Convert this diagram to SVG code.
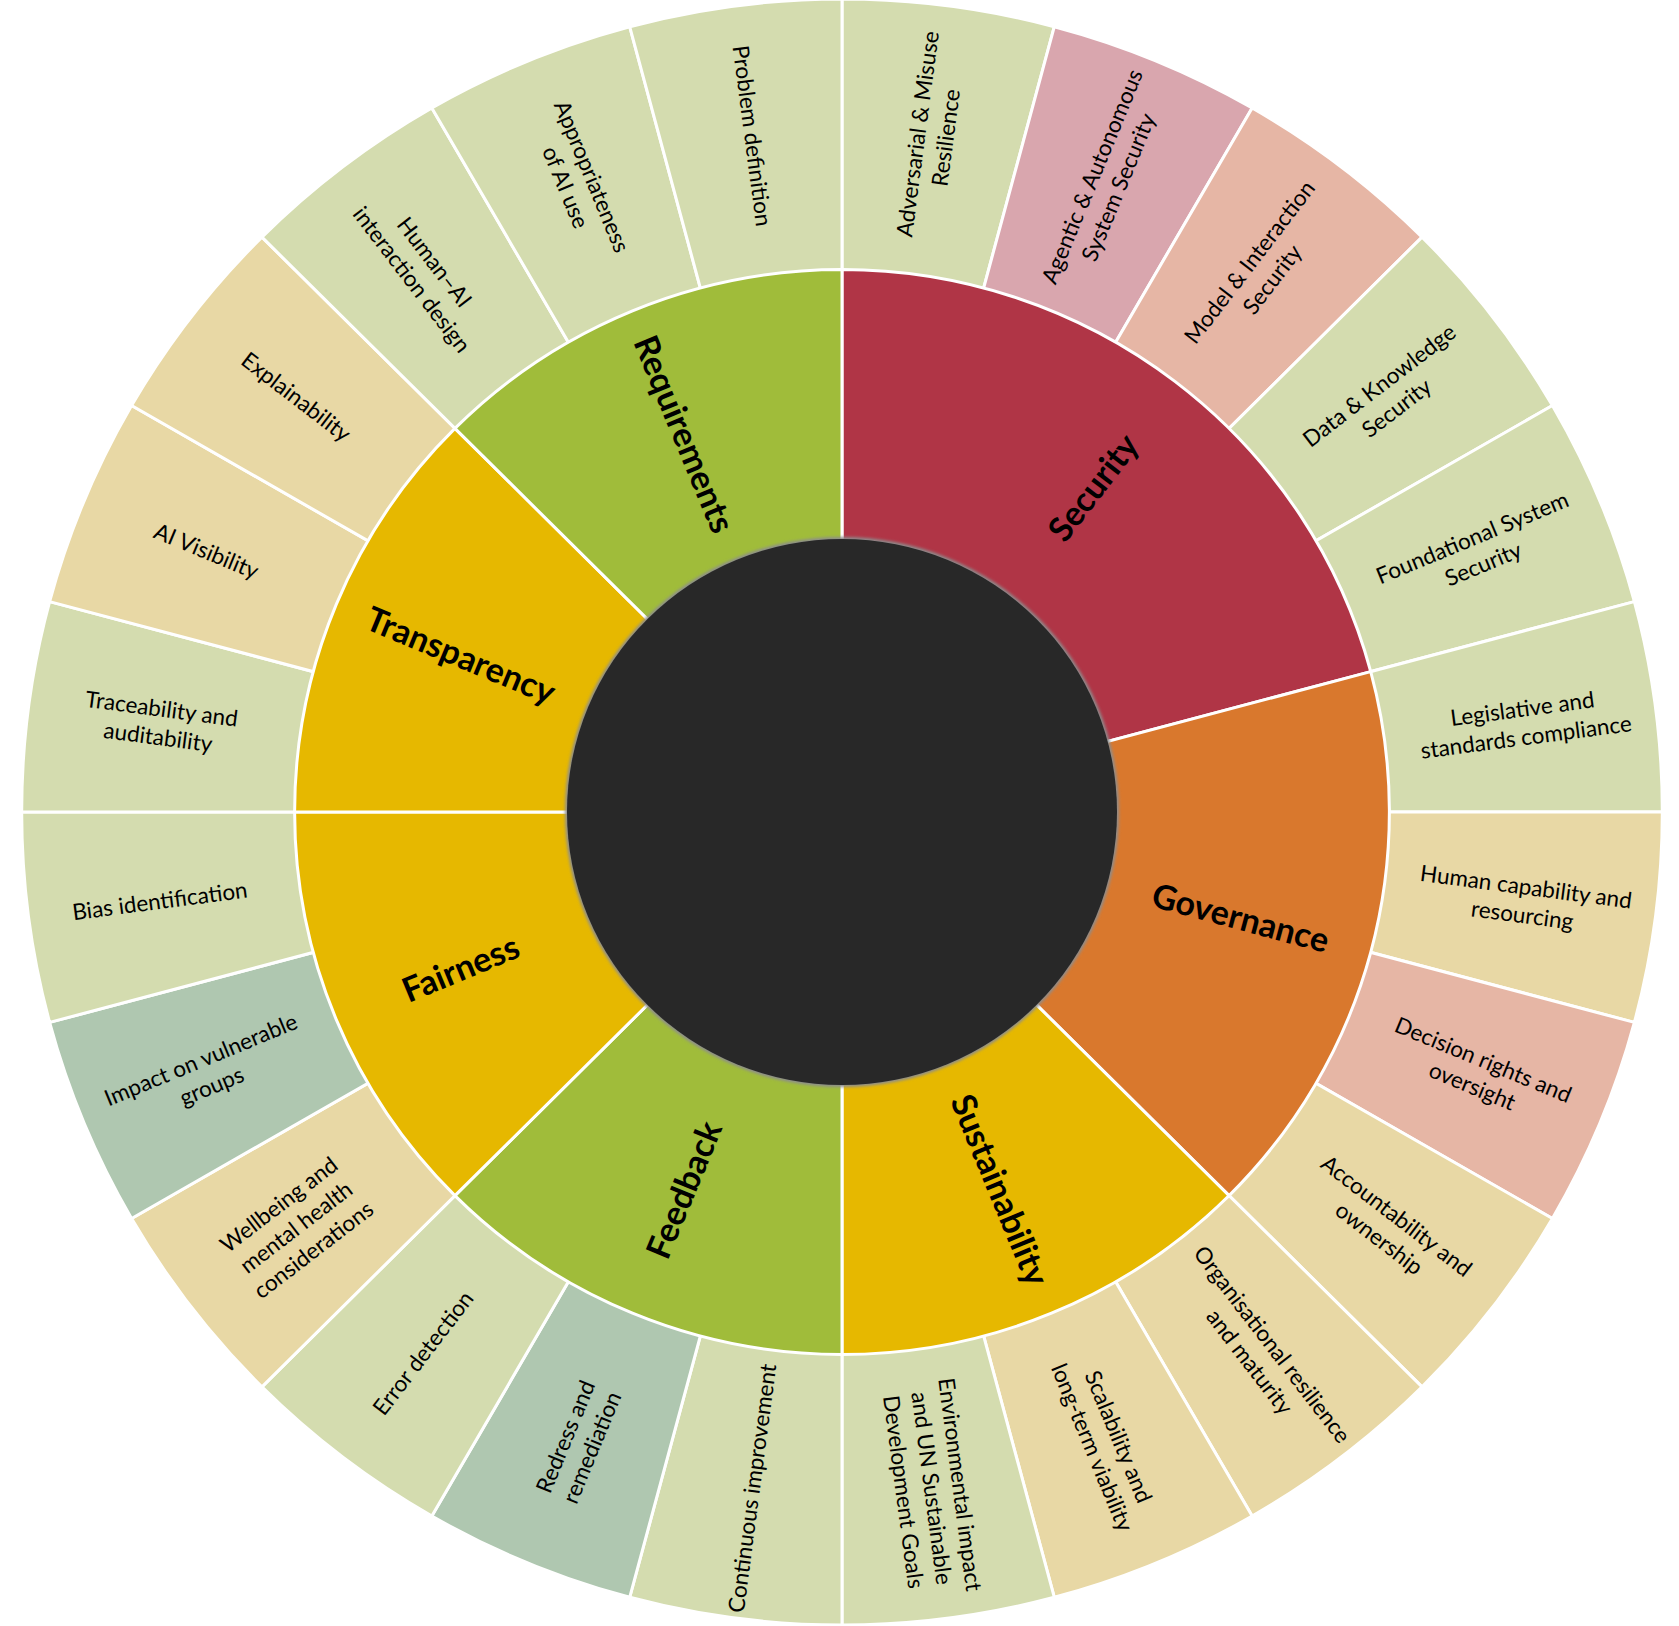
<svg xmlns="http://www.w3.org/2000/svg" width="1679" height="1626" viewBox="0 0 1679 1626">
<style>
.s{stroke:#fff;stroke-width:3;vector-effect:non-scaling-stroke;stroke-linejoin:round}
.lg{fill:#D4DCAF}.pk{fill:#D9A6AE}.sa{fill:#E6B6A5}.tn{fill:#E8D8A5}.sg{fill:#AFC7B0}
.cr{fill:#B03546}.or{fill:#D9782D}.gd{fill:#E6B800}.gr{fill:#A0BC3A}
.t{font-family:Lato,"Open Sans",sans-serif;font-size:22.5px;fill:#000;text-anchor:middle}
.m{font-family:Lato,"Open Sans",sans-serif;font-size:34px;font-weight:bold;fill:#000;text-anchor:middle}
</style>
<defs>
<filter id="halo" x="-10%" y="-10%" width="120%" height="120%"><feGaussianBlur stdDeviation="1.5"/></filter>
</defs>
<rect width="1679" height="1626" fill="#fff"/>
<g id="outer">
<g id="adversarial"><path class="s lg" transform="translate(842 812) scale(1.009 1)" d="M0 0L0 -813A813 813 0 0 1 210.42 -785.3Z"/><text class="t" transform="translate(931.8 135.8) rotate(-82.5)"><tspan x="0" y="-6.4">Adversarial &amp; Misuse</tspan><tspan x="0" y="22.1">Resilience</tspan></text></g>
<g id="agentic"><path class="s pk" transform="translate(842 812) scale(1.009 1)" d="M0 0L210.42 -785.3A813 813 0 0 1 406.5 -704.08Z"/><text class="t" transform="translate(1105.3 181.9) rotate(-67.5)"><tspan x="0" y="-6.4">Agentic &amp; Autonomous</tspan><tspan x="0" y="22.1">System Security</tspan></text></g>
<g id="model"><path class="s sa" transform="translate(842 812) scale(1.009 1)" d="M0 0L406.5 -704.08A813 813 0 0 1 574.88 -574.88Z"/><text class="t" transform="translate(1260.9 270.9) rotate(-52.5)"><tspan x="0" y="-6.4">Model &amp; Interaction</tspan><tspan x="0" y="22.1">Security</tspan></text></g>
<g id="data"><path class="s lg" transform="translate(842 812) scale(1.009 1)" d="M0 0L574.88 -574.88A813 813 0 0 1 704.08 -406.5Z"/><text class="t" transform="translate(1387.9 396.8) rotate(-37.5)"><tspan x="0" y="-6.4">Data &amp; Knowledge</tspan><tspan x="0" y="22.1">Security</tspan></text></g>
<g id="foundational"><path class="s lg" transform="translate(842 812) scale(1.009 1)" d="M0 0L704.08 -406.5A813 813 0 0 1 785.3 -210.42Z"/><text class="t" transform="translate(1477.7 551) rotate(-22.5)"><tspan x="0" y="-6.4">Foundational System</tspan><tspan x="0" y="22.1">Security</tspan></text></g>
<g id="legislative"><path class="s lg" transform="translate(842 812) scale(1.009 1)" d="M0 0L785.3 -210.42A813 813 0 0 1 813 0Z"/><text class="t" transform="translate(1524.2 723) rotate(-7.5)"><tspan x="0" y="-6.4">Legislative and</tspan><tspan x="0" y="22.1">standards compliance</tspan></text></g>
<g id="human-capability"><path class="s tn" transform="translate(842 812) scale(1.009 1)" d="M0 0L813 0A813 813 0 0 1 785.3 210.42Z"/><text class="t" transform="translate(1524.2 901) rotate(7.5)"><tspan x="0" y="-6.4">Human capability and</tspan><tspan x="0" y="22.1">resourcing</tspan></text></g>
<g id="decision-rights"><path class="s sa" transform="translate(842 812) scale(1.009 1)" d="M0 0L785.3 210.42A813 813 0 0 1 704.08 406.5Z"/><text class="t" transform="translate(1477.7 1073) rotate(22.5)"><tspan x="0" y="-6.4">Decision rights and</tspan><tspan x="0" y="22.1">oversight</tspan></text></g>
<g id="accountability"><path class="s tn" transform="translate(842 812) scale(1.009 1)" d="M0 0L704.08 406.5A813 813 0 0 1 574.88 574.88Z"/><text class="t" transform="translate(1387.9 1227.2) rotate(37.5)"><tspan x="0" y="-6.4">Accountability and</tspan><tspan x="0" y="22.1">ownership</tspan></text></g>
<g id="organisational"><path class="s tn" transform="translate(842 812) scale(1.009 1)" d="M0 0L574.88 574.88A813 813 0 0 1 406.5 704.08Z"/><text class="t" transform="translate(1260.9 1353.1) rotate(52.5)"><tspan x="0" y="-6.4">Organisational resilience</tspan><tspan x="0" y="22.1">and maturity</tspan></text></g>
<g id="scalability"><path class="s tn" transform="translate(842 812) scale(1.009 1)" d="M0 0L406.5 704.08A813 813 0 0 1 210.42 785.3Z"/><text class="t" transform="translate(1105.3 1442.1) rotate(67.5)"><tspan x="0" y="-6.4">Scalability and</tspan><tspan x="0" y="22.1">long-term viability</tspan></text></g>
<g id="environmental"><path class="s lg" transform="translate(842 812) scale(1.009 1)" d="M0 0L210.42 785.3A813 813 0 0 1 0 813Z"/><text class="t" transform="translate(931.8 1488.2) rotate(82.5)"><tspan x="0" y="-20.6">Environmental impact</tspan><tspan x="0" y="7.9">and UN Sustainable</tspan><tspan x="0" y="36.4">Development Goals</tspan></text></g>
<g id="continuous"><path class="s lg" transform="translate(842 812) scale(1.009 1)" d="M0 0L0 813A813 813 0 0 1 -210.42 785.3Z"/><text class="t" transform="translate(752.2 1488.2) rotate(-82.5)"><tspan x="0" y="7.9">Continuous improvement</tspan></text></g>
<g id="redress"><path class="s sg" transform="translate(842 812) scale(1.009 1)" d="M0 0L-210.42 785.3A813 813 0 0 1 -406.5 704.08Z"/><text class="t" transform="translate(578.7 1442.1) rotate(-67.5)"><tspan x="0" y="-6.4">Redress and</tspan><tspan x="0" y="22.1">remediation</tspan></text></g>
<g id="error-detection"><path class="s lg" transform="translate(842 812) scale(1.009 1)" d="M0 0L-406.5 704.08A813 813 0 0 1 -574.88 574.88Z"/><text class="t" transform="translate(423.1 1353.1) rotate(-52.5)"><tspan x="0" y="7.9">Error detection</tspan></text></g>
<g id="wellbeing"><path class="s tn" transform="translate(842 812) scale(1.009 1)" d="M0 0L-574.88 574.88A813 813 0 0 1 -704.08 406.5Z"/><text class="t" transform="translate(296.1 1227.2) rotate(-37.5)"><tspan x="0" y="-20.6">Wellbeing and</tspan><tspan x="0" y="7.9">mental health</tspan><tspan x="0" y="36.4">considerations</tspan></text></g>
<g id="impact"><path class="s sg" transform="translate(842 812) scale(1.009 1)" d="M0 0L-704.08 406.5A813 813 0 0 1 -785.3 210.42Z"/><text class="t" transform="translate(206.3 1073) rotate(-22.5)"><tspan x="0" y="-6.4">Impact on vulnerable</tspan><tspan x="0" y="22.1">groups</tspan></text></g>
<g id="bias"><path class="s lg" transform="translate(842 812) scale(1.009 1)" d="M0 0L-785.3 210.42A813 813 0 0 1 -813 0Z"/><text class="t" transform="translate(159.8 901) rotate(-7.5)"><tspan x="0" y="7.9">Bias identification</tspan></text></g>
<g id="traceability"><path class="s lg" transform="translate(842 812) scale(1.009 1)" d="M0 0L-813 0A813 813 0 0 1 -785.3 -210.42Z"/><text class="t" transform="translate(159.8 723) rotate(7.5)"><tspan x="0" y="-6.4">Traceability and</tspan><tspan x="0" y="22.1">auditability</tspan></text></g>
<g id="ai-visibility"><path class="s tn" transform="translate(842 812) scale(1.009 1)" d="M0 0L-785.3 -210.42A813 813 0 0 1 -704.08 -406.5Z"/><text class="t" transform="translate(206.3 551) rotate(22.5)"><tspan x="0" y="7.9">AI Visibility</tspan></text></g>
<g id="explainability"><path class="s tn" transform="translate(842 812) scale(1.009 1)" d="M0 0L-704.08 -406.5A813 813 0 0 1 -574.88 -574.88Z"/><text class="t" transform="translate(296.1 396.8) rotate(37.5)"><tspan x="0" y="7.9">Explainability</tspan></text></g>
<g id="human-ai"><path class="s lg" transform="translate(842 812) scale(1.009 1)" d="M0 0L-574.88 -574.88A813 813 0 0 1 -406.5 -704.08Z"/><text class="t" transform="translate(423.1 270.9) rotate(52.5)"><tspan x="0" y="-6.4">Human–AI</tspan><tspan x="0" y="22.1">interaction design</tspan></text></g>
<g id="appropriateness"><path class="s lg" transform="translate(842 812) scale(1.009 1)" d="M0 0L-406.5 -704.08A813 813 0 0 1 -210.42 -785.3Z"/><text class="t" transform="translate(578.7 181.9) rotate(67.5)"><tspan x="0" y="-6.4">Appropriateness</tspan><tspan x="0" y="22.1">of AI use</tspan></text></g>
<g id="problem"><path class="s lg" transform="translate(842 812) scale(1.009 1)" d="M0 0L-210.42 -785.3A813 813 0 0 1 0 -813Z"/><text class="t" transform="translate(752.2 135.8) rotate(82.5)"><tspan x="0" y="7.9">Problem definition</tspan></text></g>
</g>
<g id="categories">
<g id="security"><path class="s cr" transform="translate(842 812) scale(1.009 1)" d="M0 0L0 -542.5A542.5 542.5 0 0 1 524.01 -140.41Z"/><text class="m" transform="translate(1093.2 487.5) rotate(-52.5)" y="12">Security</text></g>
<g id="governance"><path class="s or" transform="translate(842 812) scale(1.009 1)" d="M0 0L524.01 -140.41A542.5 542.5 0 0 1 383.61 383.61Z"/><text class="m" transform="translate(1240.6 917.9) rotate(15)" y="12">Governance</text></g>
<g id="sustainability"><path class="s gd" transform="translate(842 812) scale(1.009 1)" d="M0 0L383.61 383.61A542.5 542.5 0 0 1 0 542.5Z"/><text class="m" transform="translate(999.9 1189.9) rotate(67.5)" y="12">Sustainability</text></g>
<g id="feedback"><path class="s gr" transform="translate(842 812) scale(1.009 1)" d="M0 0L0 542.5A542.5 542.5 0 0 1 -383.61 383.61Z"/><text class="m" transform="translate(684.1 1189.9) rotate(-67.5)" y="12">Feedback</text></g>
<g id="fairness"><path class="s gd" transform="translate(842 812) scale(1.009 1)" d="M0 0L-383.61 383.61A542.5 542.5 0 0 1 -542.5 0Z"/><text class="m" transform="translate(460.7 968.5) rotate(-22.5)" y="12">Fairness</text></g>
<g id="transparency"><path class="s gd" transform="translate(842 812) scale(1.009 1)" d="M0 0L-542.5 0A542.5 542.5 0 0 1 -383.61 -383.61Z"/><text class="m" transform="translate(460.7 655.5) rotate(22.5)" y="12">Transparency</text></g>
<g id="requirements"><path class="s gr" transform="translate(842 812) scale(1.009 1)" d="M0 0L-383.61 -383.61A542.5 542.5 0 0 1 0 -542.5Z"/><text class="m" transform="translate(684.1 434.1) rotate(67.5)" y="12">Requirements</text></g>
</g>
<g id="center">
<ellipse cx="842" cy="812" rx="277" ry="275" fill="#8c8c8c" filter="url(#halo)"/>
<ellipse cx="842" cy="812" rx="275" ry="273" fill="#282828"/>
</g>
</svg>
